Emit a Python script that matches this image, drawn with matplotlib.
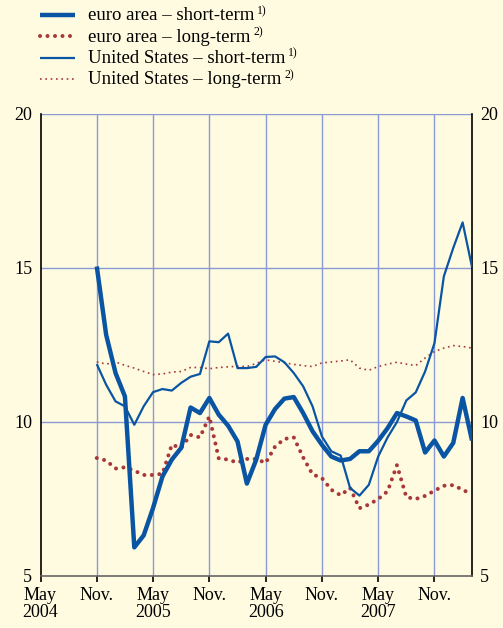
import matplotlib
matplotlib.use("Agg")
import matplotlib.pyplot as plt
from matplotlib.lines import Line2D

plt.rcParams['font.family'] = ['Liberation Serif', 'DejaVu Serif']
plt.rcParams['mathtext.fontset'] = 'custom'
plt.rcParams['mathtext.rm'] = 'Liberation Serif'

# months counted from May 2004 (0); data run monthly from Nov. 2004 (6) to Mar. 2008 (46)
months = list(range(6, 47))

euro_short = [15.05, 12.83, 11.59, 10.83, 5.93, 6.32, 7.21, 8.23, 8.78, 9.16,
              10.47, 10.29, 10.78, 10.24, 9.88, 9.37, 8.00, 8.78, 9.91, 10.42,
              10.76, 10.81, 10.29, 9.70, 9.26, 8.88, 8.75, 8.80, 9.05, 9.05,
              9.39, 9.80, 10.29, 10.18, 10.05, 9.01, 9.40, 8.88, 9.32, 10.78, 9.40]

euro_long = [8.83, 8.75, 8.49, 8.53, 8.42, 8.28, 8.28, 8.32, 9.26, 9.16,
             9.58, 9.50, 10.18, 8.82, 8.78, 8.68, 8.80, 8.80, 8.67, 9.20,
             9.45, 9.50, 8.85, 8.30, 8.18, 7.80, 7.62, 7.86, 7.20, 7.32,
             7.50, 7.75, 8.60, 7.56, 7.50, 7.60, 7.77, 7.93, 7.95, 7.80, 7.65]

us_short = [11.88, 11.21, 10.67, 10.51, 9.91, 10.51, 10.97, 11.07, 11.02, 11.27,
            11.47, 11.56, 12.62, 12.59, 12.87, 11.75, 11.75, 11.79, 12.11, 12.13,
            11.94, 11.59, 11.16, 10.51, 9.53, 9.05, 8.91, 7.86, 7.61, 7.96,
            8.88, 9.50, 10.00, 10.70, 10.96, 11.64, 12.56, 14.73, 15.65, 16.48, 15.03]

us_long = [11.95, 11.88, 11.95, 11.84, 11.75, 11.64, 11.54, 11.56, 11.62, 11.64,
           11.77, 11.77, 11.73, 11.77, 11.79, 11.81, 11.80, 11.90, 12.02, 11.97,
           11.92, 11.87, 11.83, 11.80, 11.92, 11.95, 11.98, 12.02, 11.75, 11.68,
           11.80, 11.88, 11.94, 11.88, 11.83, 12.08, 12.29, 12.40, 12.48, 12.45, 12.40]

tick_pos = [0, 6, 12, 18, 24, 30, 36, 42]
tick_labels = ['May\n2004', 'Nov.', 'May\n2005', 'Nov.', 'May\n2006', 'Nov.', 'May\n2007', 'Nov.']
y_ticks = [5, 10, 15, 20]

legend_labels = ['euro area – short-term', 'euro area – long-term',
                 'United States – short-term', 'United States – long-term']
legend_notes = ['1)', '2)', '1)', '2)']

bg = '#fffbe0'
blue = '#0a55a3'
red = '#a8383a'
grid_col = '#8a9ad6'

styles = [
    dict(color=blue, lw=3.2, solid_capstyle='butt'),
    dict(color=red, lw=2.9, linestyle=(0, (0.01, 1.85)), dash_capstyle='round'),
    dict(color=blue, lw=1.6, solid_capstyle='butt'),
    dict(color=red, lw=1.2, linestyle=(0, (1, 2.2))),
]

W, H = 503, 628
fig = plt.figure(figsize=(W / 100, H / 100), dpi=100, facecolor=bg)
ax = fig.add_axes([40.5 / W, 1 - 576 / H, 431.5 / W, 462 / H], facecolor=bg)

# grid
for t in tick_pos[1:]:
    ax.axvline(t, color=grid_col, lw=1.0, zorder=1)
for v in y_ticks[1:]:
    ax.axhline(v, color=grid_col, lw=1.0, zorder=1)

ax.plot(months, us_long, zorder=3, **styles[3])
ax.plot(months, euro_long, zorder=3, **styles[1])
ax.plot(months, us_short, zorder=4, **styles[2])
ax.plot(months, euro_short, zorder=5, **styles[0])

ax.set_xlim(0, 46)
ax.set_ylim(5, 20)
ax.set_xticks(tick_pos)
ax.set_xticklabels(tick_labels, fontsize=13, linespacing=1.0)
ax.set_yticks(y_ticks)
ax.set_yticklabels([str(v) for v in y_ticks], fontsize=13)
ax.tick_params(axis='x', direction='out', length=4, width=1.2, color='black', pad=4)
ax.tick_params(axis='y', length=0, pad=6, labelleft=True, labelright=True)

ax.spines['top'].set_visible(False)
ax.spines['left'].set_color('black')
ax.spines['right'].set_color('black')
ax.spines['bottom'].set_color('#666666')
for s in ['left', 'right', 'bottom']:
    ax.spines[s].set_linewidth(1.2)

# legend drawn by hand above the axes
for i, (lab, note) in enumerate(zip(legend_labels, legend_notes)):
    yc = 1 - (15 + 21.3 * i) / H
    fig.add_artist(Line2D([40 / W, 75 / W], [yc, yc], transform=fig.transFigure, **styles[i]))
    t = fig.text(88 / W, yc - 5.5 / H, lab, fontsize=13.5, va='baseline', ha='left')
    fig.canvas.draw()
    bb = t.get_window_extent()
    fig.text((bb.x1 + 3) / W, yc + 1 / H, note, fontsize=8.5, va='baseline', ha='left')

fig.savefig('out.png', dpi=100, facecolor=bg)
